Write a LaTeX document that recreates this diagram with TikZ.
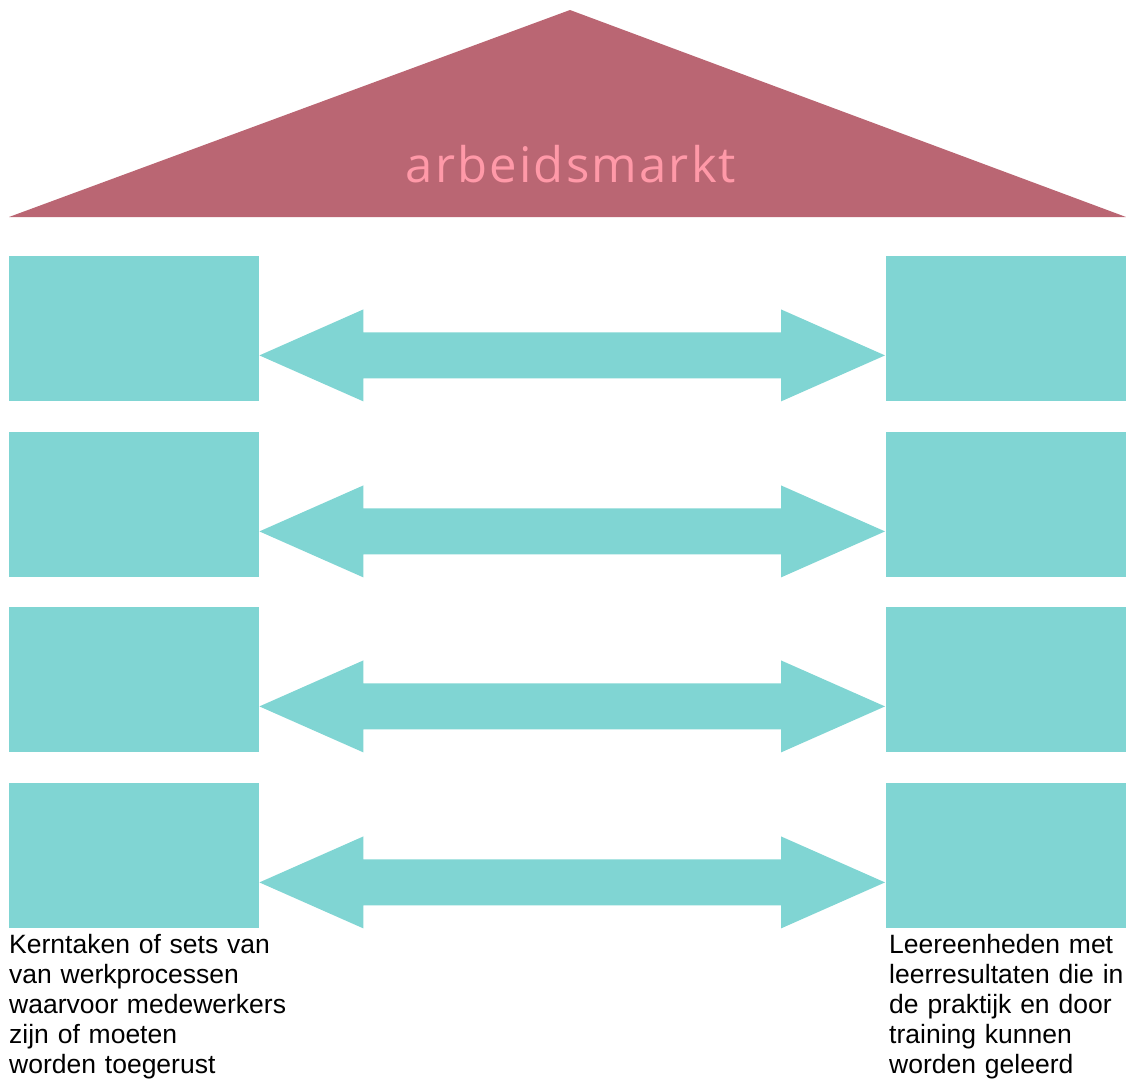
\documentclass[tikz,border=0pt]{standalone}
\usepackage{fontspec}
\setmainfont{Liberation Sans}
\newfontfamily\trifont[LetterSpace=4.5]{Open Sans}
\usetikzlibrary{calc}
\definecolor{roof}{RGB}{186,102,115}
\definecolor{rooftext}{RGB}{255,153,168}
\definecolor{tealbox}{RGB}{128,213,211}
\tikzset{
  box/.style={fill=tealbox, inner sep=0pt, anchor=north west, minimum height=145pt},
  lbox/.style={box, minimum width=250pt},
  rbox/.style={box, minimum width=240pt},
  caption/.style={anchor=base west, inner sep=0pt, align=left, text width=340pt,
    font=\fontsize{26.5}{30}\selectfont},
}
\begin{document}
\begin{tikzpicture}[x=1pt,y=-1pt]
\useasboundingbox (0,0) rectangle (1126,1079);
% roof
\fill[roof] (9,217) -- (570,10) -- (1126,217) -- cycle;
\node[anchor=base, inner sep=0pt, text=rooftext, font=\trifont\fontsize{49}{54}\selectfont] (roofl) at (571,182) {arbeidsmarkt};
% boxes
\foreach \i/\y in {1/256,2/432,3/607,4/783}{
  \node[lbox] (L\i) at (9,\y) {};
  \node[rbox] (R\i) at (886,\y) {};
  \coordinate (tl\i) at ($(L\i.south east)+(0,-46)$);
  \coordinate (tr\i) at ($(R\i.south west)+(-1,-46)$);
  \fill[tealbox] (tl\i) -- ++(104,-46) -- ++(0,23) -- ($(tr\i)+(-104,-23)$) -- ++(0,-23)
     -- (tr\i) -- ++(-104,46) -- ++(0,-23) -- ($(tl\i)+(104,23)$) -- ++(0,23) -- cycle;
}
\node[caption] (capl) at (9,953) {Kerntaken of sets van\\van werkprocessen\\waarvoor medewerkers\\zijn of moeten\\worden toegerust};
\node[caption, text width=260pt] (capr) at (889,953) {Leereenheden met\\leerresultaten die in\\de praktijk en door\\training kunnen\\worden geleerd};
\end{tikzpicture}
\end{document}
